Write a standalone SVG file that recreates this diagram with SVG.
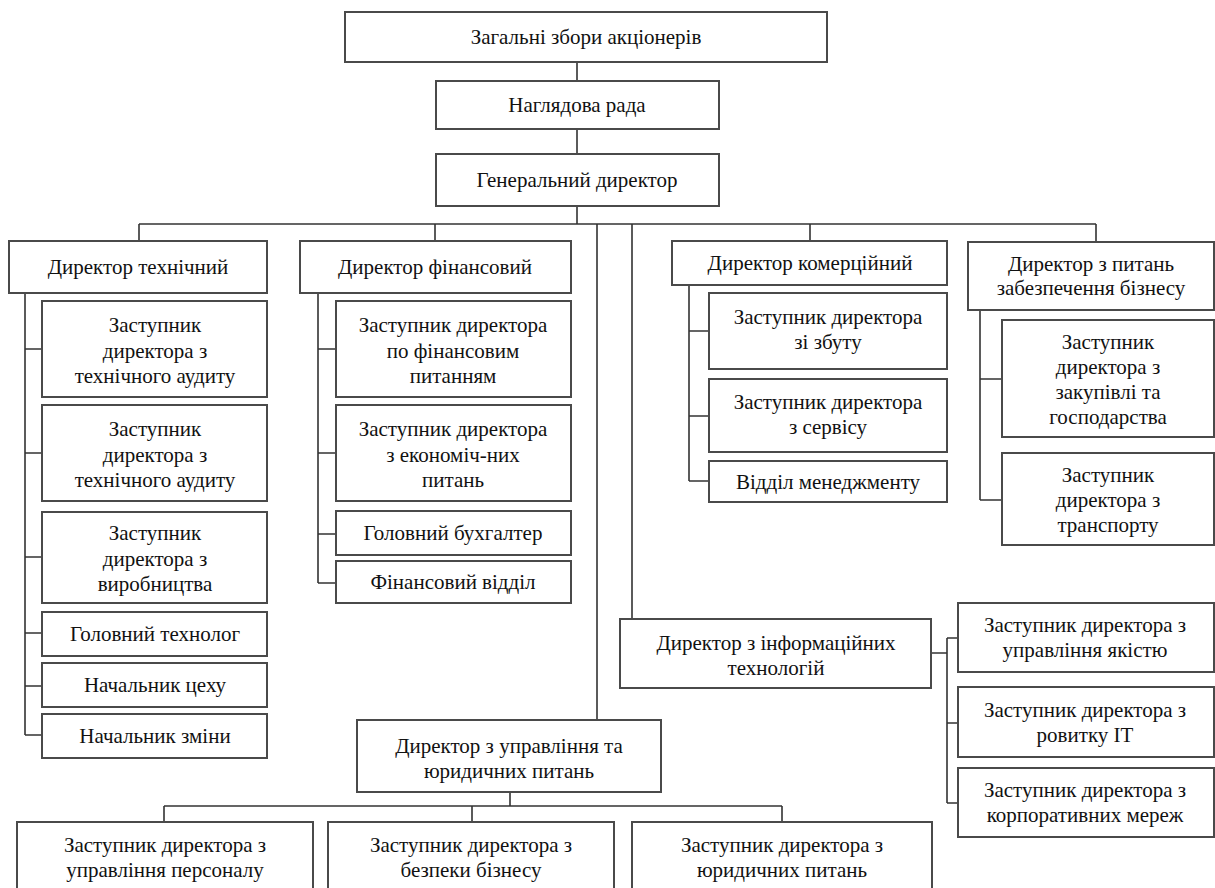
<svg xmlns="http://www.w3.org/2000/svg" width="1215" height="888" viewBox="0 0 1215 888">
<defs>
<style>
.box{fill:#fff;stroke:#4a4a4a;stroke-width:2}
.ln{fill:none;stroke:#333;stroke-width:1.6}
</style>
</defs>
<rect x="0" y="0" width="1215" height="888" fill="#fff"/>
<g id="connectors">
<path class="ln" d="M577,62V81M577,129V154M577,206V224M139,224H1096M139,224V241M435,224V241M597,224V720M632,224V619M810,224V241M1096,224V242"/>
<path class="ln" d="M25,293V735M25,349H42M25,453H42M25,557H42M25,633H42M25,686H42M25,735H42"/>
<path class="ln" d="M318,293V583M318,349H336M318,453H336M318,534H336M318,583H336"/>
<path class="ln" d="M689,285V481M689,331H709M689,416H709M689,481H709"/>
<path class="ln" d="M980,310V500M980,379H1002M980,500H1002"/>
<path class="ln" d="M931,653H947M947,638V803M947,638H958M947,723H958M947,803H958"/>
<path class="ln" d="M510,792V806M164,806H782M164,806V822M472,806V822M782,806V822"/>
</g>
<g id="nodes">
<g id="n_zagalni"><rect class="box" x="345" y="12" width="482" height="50"/><text style="font-family:'Liberation Serif',serif;font-size:21px;fill:#111;text-anchor:middle" x="586" y="44">Загальні збори акціонерів</text></g>
<g id="n_nagliad"><rect class="box" x="436" y="81" width="283" height="48"/><text style="font-family:'Liberation Serif',serif;font-size:21px;fill:#111;text-anchor:middle" x="577" y="112">Наглядова рада</text></g>
<g id="n_gen"><rect class="box" x="436" y="154" width="283" height="52"/><text style="font-family:'Liberation Serif',serif;font-size:21px;fill:#111;text-anchor:middle" x="577" y="187">Генеральний директор</text></g>
<g id="n_tech"><rect class="box" x="9" y="241" width="258" height="52"/><text style="font-family:'Liberation Serif',serif;font-size:21px;fill:#111;text-anchor:middle" x="138" y="274">Директор технічний</text></g>
<g id="n_fin"><rect class="box" x="300" y="241" width="271" height="52"/><text style="font-family:'Liberation Serif',serif;font-size:21px;fill:#111;text-anchor:middle" x="435" y="274">Директор фінансовий</text></g>
<g id="n_com"><rect class="box" x="672" y="241" width="275" height="44"/><text style="font-family:'Liberation Serif',serif;font-size:21px;fill:#111;text-anchor:middle" x="810" y="270">Директор комерційний</text></g>
<g id="n_bus"><rect class="box" x="968" y="242" width="246" height="68"/><text style="font-family:'Liberation Serif',serif;font-size:21px;fill:#111;text-anchor:middle" x="1091" y="271">Директор з питань<tspan x="1091" dy="24">забезпечення бізнесу</tspan></text></g>
<g id="n_t1"><rect class="box" x="42" y="301" width="225" height="96"/><text style="font-family:'Liberation Serif',serif;font-size:21px;fill:#111;text-anchor:middle" x="155" y="332">Заступник<tspan x="155" dy="25.5">директора з</tspan><tspan x="155" dy="25.5">технічного аудиту</tspan></text></g>
<g id="n_t2"><rect class="box" x="42" y="405" width="225" height="96"/><text style="font-family:'Liberation Serif',serif;font-size:21px;fill:#111;text-anchor:middle" x="155" y="436">Заступник<tspan x="155" dy="25.5">директора з</tspan><tspan x="155" dy="25.5">технічного аудиту</tspan></text></g>
<g id="n_t3"><rect class="box" x="42" y="512" width="225" height="91"/><text style="font-family:'Liberation Serif',serif;font-size:21px;fill:#111;text-anchor:middle" x="155" y="540">Заступник<tspan x="155" dy="25.5">директора з</tspan><tspan x="155" dy="25.5">виробництва</tspan></text></g>
<g id="n_t4"><rect class="box" x="42" y="612" width="225" height="44"/><text style="font-family:'Liberation Serif',serif;font-size:21px;fill:#111;text-anchor:middle" x="155" y="641">Головний технолог</text></g>
<g id="n_t5"><rect class="box" x="42" y="663" width="225" height="44"/><text style="font-family:'Liberation Serif',serif;font-size:21px;fill:#111;text-anchor:middle" x="155" y="692">Начальник цеху</text></g>
<g id="n_t6"><rect class="box" x="42" y="714" width="225" height="44"/><text style="font-family:'Liberation Serif',serif;font-size:21px;fill:#111;text-anchor:middle" x="155" y="743">Начальник зміни</text></g>
<g id="n_f1"><rect class="box" x="336" y="301" width="235" height="96"/><text style="font-family:'Liberation Serif',serif;font-size:21px;fill:#111;text-anchor:middle" x="453" y="332">Заступник директора<tspan x="453" dy="25.5">по фінансовим</tspan><tspan x="453" dy="25.5">питанням</tspan></text></g>
<g id="n_f2"><rect class="box" x="336" y="405" width="235" height="96"/><text style="font-family:'Liberation Serif',serif;font-size:21px;fill:#111;text-anchor:middle" x="453" y="436">Заступник директора<tspan x="453" dy="25.5">з економіч-них</tspan><tspan x="453" dy="25.5">питань</tspan></text></g>
<g id="n_f3"><rect class="box" x="336" y="511" width="235" height="44"/><text style="font-family:'Liberation Serif',serif;font-size:21px;fill:#111;text-anchor:middle" x="453" y="540">Головний бухгалтер</text></g>
<g id="n_f4"><rect class="box" x="336" y="561" width="235" height="42"/><text style="font-family:'Liberation Serif',serif;font-size:21px;fill:#111;text-anchor:middle" x="453" y="589">Фінансовий відділ</text></g>
<g id="n_c1"><rect class="box" x="709" y="293" width="238" height="76"/><text style="font-family:'Liberation Serif',serif;font-size:21px;fill:#111;text-anchor:middle" x="828" y="324">Заступник директора<tspan x="828" dy="25">зі збуту</tspan></text></g>
<g id="n_c2"><rect class="box" x="709" y="379" width="238" height="73"/><text style="font-family:'Liberation Serif',serif;font-size:21px;fill:#111;text-anchor:middle" x="828" y="409">Заступник директора<tspan x="828" dy="25">з сервісу</tspan></text></g>
<g id="n_c3"><rect class="box" x="709" y="461" width="238" height="41"/><text style="font-family:'Liberation Serif',serif;font-size:21px;fill:#111;text-anchor:middle" x="828" y="489">Відділ менеджменту</text></g>
<g id="n_b1"><rect class="box" x="1002" y="320" width="212" height="117"/><text style="font-family:'Liberation Serif',serif;font-size:21px;fill:#111;text-anchor:middle" x="1108" y="349">Заступник<tspan x="1108" dy="25">директора з</tspan><tspan x="1108" dy="25">закупівлі та</tspan><tspan x="1108" dy="25">господарства</tspan></text></g>
<g id="n_b2"><rect class="box" x="1002" y="453" width="212" height="92"/><text style="font-family:'Liberation Serif',serif;font-size:21px;fill:#111;text-anchor:middle" x="1108" y="482">Заступник<tspan x="1108" dy="25">директора з</tspan><tspan x="1108" dy="25">транспорту</tspan></text></g>
<g id="n_it"><rect class="box" x="620" y="619" width="311" height="69"/><text style="font-family:'Liberation Serif',serif;font-size:21px;fill:#111;text-anchor:middle" x="776" y="650">Директор з інформаційних<tspan x="776" dy="25">технологій</tspan></text></g>
<g id="n_i1"><rect class="box" x="958" y="603" width="256" height="69"/><text style="font-family:'Liberation Serif',serif;font-size:21px;fill:#111;text-anchor:middle" x="1085" y="632">Заступник директора з<tspan x="1085" dy="25">управління якістю</tspan></text></g>
<g id="n_i2"><rect class="box" x="958" y="687" width="256" height="70"/><text style="font-family:'Liberation Serif',serif;font-size:21px;fill:#111;text-anchor:middle" x="1085" y="717">Заступник директора з<tspan x="1085" dy="25">ровитку ІТ</tspan></text></g>
<g id="n_i3"><rect class="box" x="958" y="768" width="256" height="69"/><text style="font-family:'Liberation Serif',serif;font-size:21px;fill:#111;text-anchor:middle" x="1085" y="797">Заступник директора з<tspan x="1085" dy="25">корпоративних мереж</tspan></text></g>
<g id="n_upr"><rect class="box" x="357" y="720" width="304" height="72"/><text style="font-family:'Liberation Serif',serif;font-size:21px;fill:#111;text-anchor:middle" x="509" y="753">Директор з управління та<tspan x="509" dy="25">юридичних питань</tspan></text></g>
<g id="n_u1"><rect class="box" x="17" y="822" width="296" height="80"/><text style="font-family:'Liberation Serif',serif;font-size:21px;fill:#111;text-anchor:middle" x="165" y="852">Заступник директора з<tspan x="165" dy="25">управління персоналу</tspan></text></g>
<g id="n_u2"><rect class="box" x="328" y="822" width="286" height="80"/><text style="font-family:'Liberation Serif',serif;font-size:21px;fill:#111;text-anchor:middle" x="471" y="852">Заступник директора з<tspan x="471" dy="25">безпеки бізнесу</tspan></text></g>
<g id="n_u3"><rect class="box" x="632" y="822" width="300" height="80"/><text style="font-family:'Liberation Serif',serif;font-size:21px;fill:#111;text-anchor:middle" x="782" y="852">Заступник директора з<tspan x="782" dy="25">юридичних питань</tspan></text></g>
</g>
</svg>
